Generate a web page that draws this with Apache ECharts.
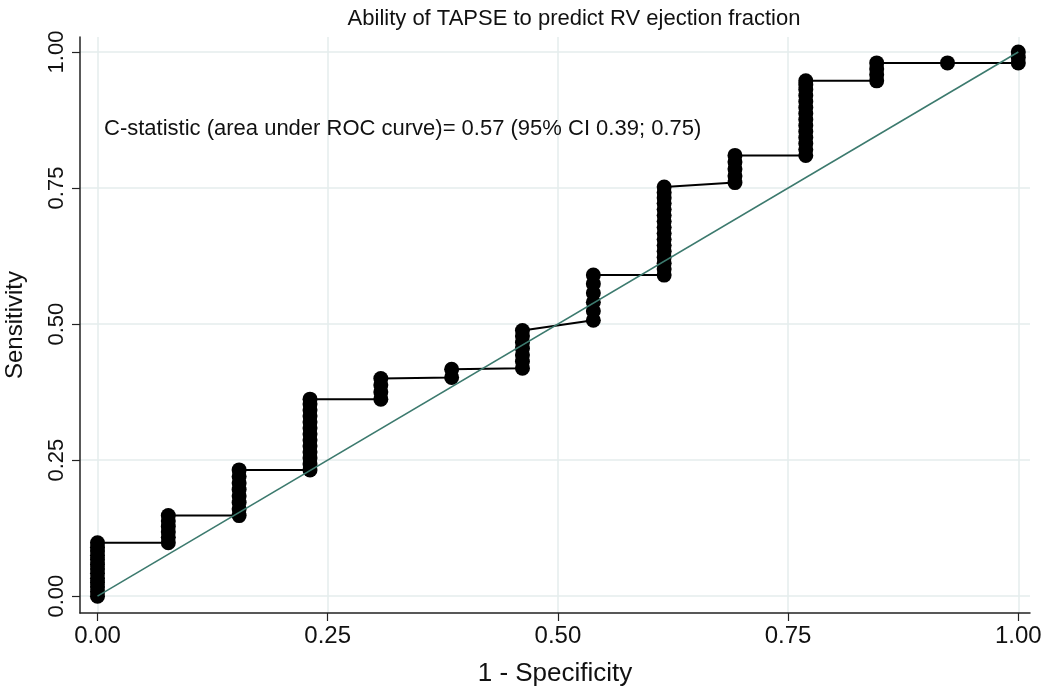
<!DOCTYPE html>
<html>
<head>
<meta charset="utf-8">
<script src="https://cdn.jsdelivr.net/npm/echarts@6/dist/echarts.min.js"></script>
<style>html,body{margin:0;padding:0;background:#fff}#c{width:1050px;height:690px}</style>
</head>
<body>
<div id="c"></div>
<script>
// 1 - specificity of each cutpoint column
const columnFpr = [0, 0.0769, 0.1538, 0.2308, 0.3077, 0.3846, 0.4615, 0.5385, 0.6154, 0.6923, 0.7692, 0.8462, 0.9231, 1];
// sensitivity values of the points in each column, in plotting order
const columnSens = [
  [0, 0.008, 0.017, 0.025, 0.033, 0.042, 0.05, 0.058, 0.067, 0.075, 0.083, 0.09, 0.098],
  [0.098, 0.108, 0.118, 0.128, 0.138, 0.148],
  [0.148, 0.16, 0.172, 0.184, 0.196, 0.208, 0.22, 0.232],
  [0.232, 0.243, 0.254, 0.265, 0.276, 0.287, 0.298, 0.309, 0.32, 0.331, 0.342, 0.353, 0.362],
  [0.362, 0.375, 0.388, 0.4],
  [0.402, 0.417],
  [0.419, 0.431, 0.443, 0.455, 0.466, 0.478, 0.488],
  [0.507, 0.524, 0.54, 0.557, 0.574, 0.59],
  [0.59, 0.601, 0.612, 0.623, 0.634, 0.645, 0.656, 0.667, 0.678, 0.689, 0.7, 0.711, 0.722, 0.732, 0.742, 0.752],
  [0.76, 0.772, 0.785, 0.798, 0.81],
  [0.81, 0.821, 0.832, 0.843, 0.854, 0.865, 0.876, 0.887, 0.898, 0.909, 0.92, 0.931, 0.94, 0.947],
  [0.947, 0.958, 0.969, 0.98],
  [0.98],
  [0.98, 0.99, 1]
];
const diagX = [0, 1];
const diagY = [0, 1];
const tickValues = [0, 0.25, 0.5, 0.75, 1];

const title = 'Ability of TAPSE to predict RV ejection fraction';
const note = 'C-statistic (area under ROC curve)= 0.57 (95% CI 0.39; 0.75)';
const xName = '1 - Specificity';
const yName = 'Sensitivity';

const rocPoints = [];
columnFpr.forEach((x, i) => columnSens[i].forEach(y => rocPoints.push([x, y])));

const fontFam = '"Liberation Sans", Arial, sans-serif';
const chart = echarts.init(document.getElementById('c'), null, {renderer: 'canvas'});
const axisCommon = {
  axisLine: {show: true, onZero: false, lineStyle: {color: '#222', width: 1.5}},
  axisTick: {show: true, inside: false, length: 8, lineStyle: {color: '#222', width: 1.2}, customValues: tickValues},
  axisLabel: {color: '#111', fontSize: 22, fontFamily: fontFam, customValues: tickValues,
    formatter: v => v.toFixed(2)},
  splitLine: {show: true, lineStyle: {color: '#e4eded', width: 1.5}},
  nameTextStyle: {color: '#111', fontSize: 24, fontFamily: fontFam}
};
chart.setOption({
  animation: false,
  backgroundColor: '#fff',
  title: {text: title, left: 569, top: 3, textAlign: 'center',
    textStyle: {fontSize: 22, fontWeight: 'normal', color: '#111', fontFamily: fontFam}},
  grid: {left: 80, right: 20, top: 37, bottom: 77, containLabel: false, outerBoundsMode: 'none'},
  xAxis: Object.assign({}, axisCommon, {
    type: 'value', min: -0.019, max: 1.0127,
    name: xName, nameLocation: 'middle', nameGap: 48,
    nameTextStyle: Object.assign({}, axisCommon.nameTextStyle, {fontSize: 26}),
    axisLabel: Object.assign({}, axisCommon.axisLabel, {margin: 11, fontSize: 24})
  }),
  yAxis: Object.assign({}, axisCommon, {
    type: 'value', min: -0.031, max: 1.0276,
    name: yName, nameLocation: 'middle', nameGap: 53,
    axisLabel: Object.assign({}, axisCommon.axisLabel, {rotate: 90, margin: 12})
  }),
  graphic: [{
    type: 'text', left: 104, top: 118, z: 100,
    style: {text: note, fontSize: 22, fontFamily: fontFam, fill: '#111'}
  }],
  series: [
    {
      type: 'line', data: rocPoints,
      symbol: 'circle', symbolSize: 15, showAllSymbol: true,
      itemStyle: {color: '#000'}, lineStyle: {color: '#000', width: 2}, z: 2
    },
    {
      type: 'line', data: diagX.map((x, i) => [x, diagY[i]]),
      symbol: 'none', lineStyle: {color: '#3c7a6e', width: 1.6}, z: 3
    }
  ]
});
</script>
</body>
</html>
